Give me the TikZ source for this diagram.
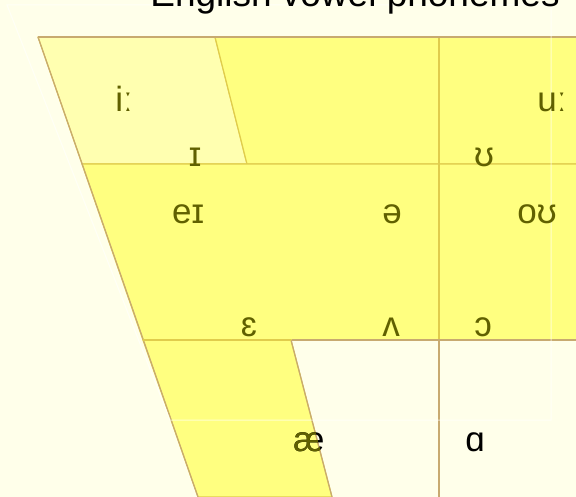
\documentclass[tikz,border=0pt]{standalone}
\usepackage{fontspec}
\setmainfont{Liberation Sans}
\usetikzlibrary{positioning}
\definecolor{cream}{HTML}{FFFFEA}
\definecolor{paleyel}{HTML}{FFFFB0}
\definecolor{brightyel}{HTML}{FFFF80}
\definecolor{edgeyel}{HTML}{E0CC4C}
\definecolor{chartbrown}{HTML}{C8AA70}
\definecolor{vowelink}{HTML}{606000}
\begin{document}
\begin{tikzpicture}[x=1pt, y=-1pt, font=\fontsize{35}{42}\selectfont,
    cell/.style={draw=edgeyel, line width=1.2pt, line join=round},
    chart/.style={draw=chartbrown, line width=1.2pt},
    vowel/.style={anchor=base, inner sep=0pt, text=vowelink}]
  \useasboundingbox[fill=cream] (0,0) rectangle (576,497);
  % Chart corners (outer and inner slanted edges)
  \coordinate (otop) at (38,37);
  \coordinate (omid) at (82,164);
  \coordinate (olow) at (143,340);
  \coordinate (obot) at (198,497);
  \coordinate (itop) at (215,37);
  \coordinate (imid) at (247,164);
  \coordinate (ilow) at (291,340);
  \coordinate (ibot) at (332,497);
  \coordinate (rtop) at (580,37);
  \coordinate (rmid) at (580,164);
  \coordinate (rlow) at (580,340);
  \coordinate (vtop) at (439,37);
  \coordinate (vlow) at (439,340);
  \coordinate (vbot) at (439,500);
  % Highlighted cells
  \path[cell, fill=paleyel] (otop) -- (itop) -- (imid) -- (omid) -- cycle;
  \path[cell, fill=brightyel] (itop) -- (rtop) -- (rmid) -- (imid) -- cycle;
  \path[cell, fill=brightyel] (omid) -- (rmid) -- (rlow) -- (olow) -- cycle;
  \path[cell, fill=brightyel] (olow) -- (ilow) -- (ibot) -- (obot) -- cycle;
  \draw[cell] (vtop) -- (vlow);
  % Chart frame
  \draw[chart] (otop) -- (rtop);
  \draw[chart] (otop) -- (obot);
  \draw[chart] (ilow) -- (ibot);
  \draw[chart] (vlow) -- (vbot);
  \draw[chart] ([xshift=1pt]ilow) -- (rlow);
  \draw[cell] (olow) -- (ilow);
  % Faint white outline
  \draw[white, line width=1pt, opacity=0.6] (7,5) -- (551,5) -- (551,420) -- (170,420) -- cycle;
  % Vowels
  \node[vowel] (ii) at (124,112) {iː};
  \node[vowel] (uu) at (552,112) {uː};
  \node[vowel] (ih) at (195,167) {ɪ};
  \node[vowel] (uh) at (484,167) {ʊ};
  \node[vowel] (ei) at (188,224) {eɪ};
  \node[vowel] (schwa) at (392,224) {ə};
  \node[vowel] (ou) at (537,224) {oʊ};
  \node[vowel] (eh) at (249,336) {ɛ};
  \node[vowel] (uhh) at (391,336) {ʌ};
  \node[vowel] (aw) at (483,336) {ɔ};
  \node[vowel, text=black] (ae) at (309,451) {æ};
  \begin{scope}
    \clip (olow) -- (ilow) -- (ibot) -- (obot) -- cycle;
    \node[vowel] (aein) at (309,451) {æ};
  \end{scope}
  \node[vowel, text=black] (ah) at (475,451) {ɑ};
  % Title
  \node[anchor=base, inner sep=0pt, font=\fontsize{37}{44}\selectfont] (title) at (355,7) {English vowel phonemes};
\end{tikzpicture}
\end{document}
